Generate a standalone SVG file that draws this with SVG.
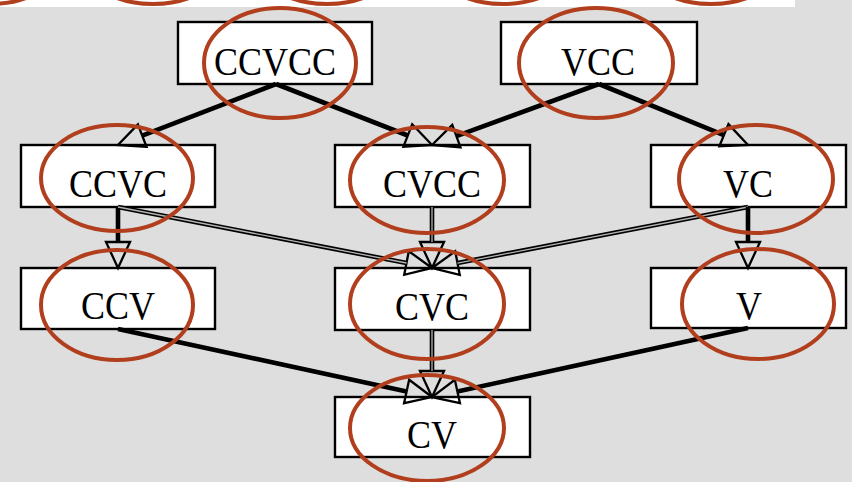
<svg xmlns="http://www.w3.org/2000/svg" width="852" height="482" viewBox="0 0 852 482">
<style>
.box{fill:#ffffff;stroke:#000;stroke-width:2.4}
.lbl{font-family:"Liberation Serif","Times New Roman",serif;font-size:36px;fill:#000;text-anchor:middle}
.edge{stroke:#000;stroke-width:4.6;fill:none;stroke-linecap:butt}
.dbl{stroke:#b4b4b4;stroke-width:1.3;fill:none}
.ring{fill:none;stroke:#b13f1d;stroke-width:4}
</style>
<defs>
<marker id="arr" markerUnits="userSpaceOnUse" markerWidth="32" markerHeight="32" viewBox="-3 -15 32 30" refX="0" refY="0" orient="auto">
<path d="M0,-12 L26,0 L0,12 Z" fill="none" stroke="#000" stroke-width="2.3" stroke-linejoin="miter"/>
</marker>
</defs>
<rect x="0" y="0" width="852" height="482" fill="#dedede"/>
<rect x="0" y="0" width="795" height="7" fill="#ffffff"/>
<g id="top-rings">
<ellipse class="ring" cx="-10" cy="-49" rx="77" ry="53"/>
<ellipse class="ring" cx="153" cy="-49" rx="77" ry="53"/>
<ellipse class="ring" cx="327" cy="-49" rx="77" ry="53"/>
<ellipse class="ring" cx="503" cy="-49" rx="77" ry="53"/>
<ellipse class="ring" cx="711" cy="-49" rx="77" ry="53"/>
</g>
<g id="CCVCC"><rect class="box" x="178" y="22" width="194" height="62"/><text class="lbl" transform="translate(275,75) scale(1,1.14)">CCVCC</text></g>
<g id="VCC"><rect class="box" x="501" y="22" width="196" height="62"/><text class="lbl" transform="translate(598,75) scale(1,1.14)">VCC</text></g>
<g id="CCVC"><rect class="box" x="21" y="145" width="194" height="62"/><text class="lbl" transform="translate(118,197) scale(1,1.14)">CCVC</text></g>
<g id="CVCC"><rect class="box" x="335" y="145" width="195" height="62"/><text class="lbl" transform="translate(432,197) scale(1,1.14)">CVCC</text></g>
<g id="VC"><rect class="box" x="651" y="145" width="195" height="62"/><text class="lbl" transform="translate(748,197) scale(1,1.14)">VC</text></g>
<g id="CCV"><rect class="box" x="21" y="268" width="194" height="61"/><text class="lbl" transform="translate(118,319) scale(1,1.14)">CCV</text></g>
<g id="CVC"><rect class="box" x="335" y="268" width="195" height="62"/><text class="lbl" transform="translate(432,320) scale(1,1.14)">CVC</text></g>
<g id="V"><rect class="box" x="651" y="268" width="195" height="60"/><text class="lbl" transform="translate(749,319) scale(1,1.14)">V</text></g>
<g id="CV"><rect class="box" x="335" y="397" width="195" height="60"/><text class="lbl" transform="translate(432,448) scale(1,1.14)">CV</text></g>
<g id="connectors">
<line class="edge" x1="276" y1="84" x2="142.2" y2="135.6" marker-end="url(#arr)"/>
<line class="edge" x1="276" y1="84" x2="407.8" y2="135.5" marker-end="url(#arr)"/>
<line class="edge" x1="599" y1="84" x2="456.4" y2="136.1" marker-end="url(#arr)"/>
<line class="edge" x1="599" y1="84" x2="723.9" y2="135.2" marker-end="url(#arr)"/>
<line class="edge" x1="118" y1="207" x2="118" y2="242" marker-end="url(#arr)"/>
<line class="edge" x1="118" y1="207" x2="406.5" y2="263.0" marker-end="url(#arr)"/>
<line class="dbl" x1="118" y1="207" x2="406.5" y2="263.0"/>
<line class="edge" x1="432" y1="207" x2="432" y2="242" marker-end="url(#arr)"/>
<line class="dbl" x1="432" y1="207" x2="432" y2="242"/>
<line class="edge" x1="748" y1="207" x2="457.5" y2="263.1" marker-end="url(#arr)"/>
<line class="dbl" x1="748" y1="207" x2="457.5" y2="263.1"/>
<line class="edge" x1="748" y1="207" x2="748" y2="242" marker-end="url(#arr)"/>
<line class="edge" x1="118" y1="329" x2="406.6" y2="391.5" marker-end="url(#arr)"/>
<line class="edge" x1="432" y1="330" x2="432" y2="371" marker-end="url(#arr)"/>
<line class="dbl" x1="432" y1="330" x2="432" y2="371"/>
<line class="edge" x1="748" y1="328" x2="457.4" y2="391.5" marker-end="url(#arr)"/>
</g>
<g id="rings">
<ellipse class="ring" cx="280" cy="63" rx="76" ry="55"/>
<ellipse class="ring" cx="596" cy="63" rx="77" ry="55"/>
<ellipse class="ring" cx="117" cy="178" rx="76" ry="53"/>
<ellipse class="ring" cx="427" cy="180" rx="77" ry="53"/>
<ellipse class="ring" cx="756" cy="179" rx="77" ry="54"/>
<ellipse class="ring" cx="117" cy="305" rx="76" ry="55"/>
<ellipse class="ring" cx="427" cy="304" rx="77" ry="55"/>
<ellipse class="ring" cx="758" cy="304" rx="76" ry="55"/>
<ellipse class="ring" cx="427" cy="428" rx="77" ry="53"/>
</g>
</svg>
